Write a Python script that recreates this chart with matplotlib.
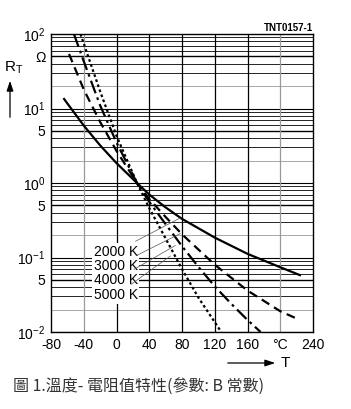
import numpy as np
import matplotlib.pyplot as plt
from matplotlib.patches import FancyArrowPatch

plt.rcParams['font.family'] = ['Liberation Sans', 'DejaVu Sans']
plt.rcParams['mathtext.fontset'] = 'custom'
plt.rcParams['mathtext.rm'] = 'Liberation Sans'
plt.rcParams['mathtext.default'] = 'regular'

# courbes (R_T / R_25, T en degC)
t_2000 = [-64, -40, -20, 0, 25, 40, 60, 80, 120, 160, 200, 224]
r_2000 = [13.4, 5.9, 3.2, 1.85, 1.0, 0.70, 0.47, 0.33, 0.185, 0.112, 0.074, 0.058]

t_3000 = [-58, -40, -20, 0, 25, 40, 60, 80, 120, 160, 200, 224]
r_3000 = [54, 18, 6.6, 2.7, 1.0, 0.61, 0.35, 0.205, 0.08, 0.036, 0.019, 0.0145]

t_4000 = [-52, -40, -20, 0, 25, 40, 60, 80, 100, 120, 140, 160, 176]
r_4000 = [100, 43, 11, 3.5, 1.0, 0.56, 0.28, 0.142, 0.075, 0.041, 0.024, 0.0145, 0.01]

t_5000 = [-44, -20, 0, 25, 40, 60, 80, 100, 128]
r_5000 = [100, 17, 4.3, 1.0, 0.46, 0.18, 0.07, 0.029, 0.01]

labels = ['2000 K', '3000 K', '4000 K', '5000 K']
label_y = [0.12, 0.077, 0.050, 0.031]
leader_end = [(78, 0.34), (78, 0.21), (72, 0.145), (66, 0.105)]

x_ticks = [-80, -40, 0, 40, 80, 120, 160, 200, 240]
x_labels = ['-80', '-40', '0', '40', '80', '120', '160', '°C', '240']
y_ticks = [1e-2, 5e-2, 1e-1, 5e-1, 1, 5, 10, 50, 100]
y_labels = ['$10^{-2}$', '5', '$10^{-1}$', '5', '$10^{0}$', '5', '$10^{1}$', 'Ω', '$10^{2}$']

fig = plt.figure(figsize=(3.51, 4.09), dpi=100)
ax = fig.add_axes([51 / 351, 1 - 332 / 409, 262 / 351, 298 / 409])
ax.set_yscale('log')
ax.set_xlim(-80, 240)
ax.set_ylim(1e-2, 1e2)

# grille
for dec in [1e-2, 1e-1, 1, 10]:
    for m in range(2, 10):
        c = '#999999' if m == 2 else 'black'
        lw = 1.0 if m == 5 else 0.6
        ax.axhline(m * dec, color=c, lw=lw, zorder=1)
    ax.axhline(dec, color='black', lw=0.8, zorder=1)
for x in x_ticks[1:-1]:
    c = '#999999' if x in (-40, 200) else 'black'
    ax.axvline(x, color=c, lw=0.9, zorder=1)

# courbes
ax.plot(t_2000, r_2000, color='black', lw=1.6, ls='-', zorder=3)
ax.plot(t_3000, r_3000, color='black', lw=1.6, ls=(0, (4, 2.5)), zorder=3)
ax.plot(t_4000, r_4000, color='black', lw=1.6, ls=(0, (6, 2, 1.2, 2)), zorder=3)
ax.plot(t_5000, r_5000, color='black', lw=1.6, ls=(0, (1.2, 1.2)), zorder=3)

for lab, ly, end in zip(labels, label_y, leader_end):
    ax.annotate(lab, xy=end, xytext=(26, ly), ha='right', va='center', fontsize=10,
                bbox=dict(boxstyle='square,pad=0.1', fc='white', ec='none'),
                arrowprops=dict(arrowstyle='-', color='#555555', lw=0.5,
                                shrinkA=3, shrinkB=0), zorder=4)

ax.set_xticks(x_ticks)
ax.set_xticklabels(x_labels)
ax.set_yticks(y_ticks)
ax.set_yticklabels(y_labels)
ax.minorticks_off()
ax.tick_params(length=0, labelsize=10, pad=4)
for s in ax.spines.values():
    s.set_linewidth(1.0)

fig.text(313 / 351, 1 - 28 / 409, 'TNT0157-1', ha='right', va='center', fontsize=7, fontweight='bold')

# axe T
fig.patches.append(FancyArrowPatch(
    (225 / 351, 1 - 363 / 409), (278 / 351, 1 - 363 / 409), transform=fig.transFigure,
    arrowstyle='-|>,head_length=0.6,head_width=0.2', color='black', lw=0.9, mutation_scale=10))
fig.text(281 / 351, 1 - 363 / 409, 'T', ha='left', va='center', fontsize=11)

# axe R_T
fig.text(4 / 351, 1 - 68 / 409, '$R_T$', ha='left', va='center', fontsize=11)
fig.patches.append(FancyArrowPatch(
    (10 / 351, 1 - 120 / 409), (10 / 351, 1 - 78 / 409), transform=fig.transFigure,
    arrowstyle='-|>,head_length=0.6,head_width=0.2', color='black', lw=0.9, mutation_scale=10))

fig.text(13 / 351, 1 - 387 / 409, '圖 1.溫度- 電阻值特性(參數: B 常數)', ha='left', va='center',
         fontsize=11.5, color='#333333', family=['Noto Sans CJK TC', 'DejaVu Sans'])

fig.savefig('out.png', dpi=100)
